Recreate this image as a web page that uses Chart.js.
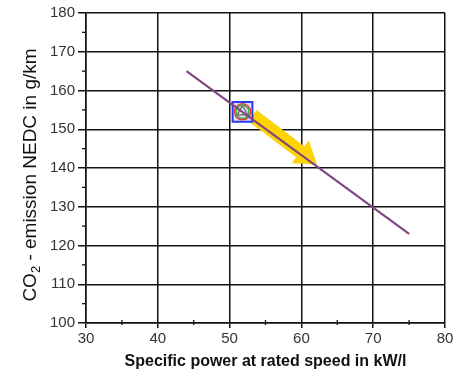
<!DOCTYPE html>
<html>
<head>
<meta charset="utf-8">
<script src="https://cdn.jsdelivr.net/npm/chart.js@4.4.1/dist/chart.umd.min.js"></script>
<style>
  html, body { margin: 0; padding: 0; background: #fff; overflow: hidden; }
  canvas { display: block; }
</style>
</head>
<body>
<canvas id="co2Chart" width="453" height="371"></canvas>
<script>
// data
var trendX = [44, 75];
var trendY = [165, 123];
var markerPoint = [51.8, 154.5];
var arrowFrom = [53.2, 153.5];
var arrowTo = [62.1, 141.0];
var xTicks = [30, 40, 50, 60, 70, 80];
var yTicks = [100, 110, 120, 130, 140, 150, 160, 170, 180];
var xMinor = [35, 45, 55, 65, 75];
var yMinor = [105, 115, 125, 135, 145, 155, 165, 175];

var font = '"Liberation Sans", Arial, sans-serif';

// yellow arrow, under the line
var arrowPlugin = {
  id: 'arrow',
  beforeDatasetsDraw: function(chart) {
    var x = chart.scales.x, y = chart.scales.y, ctx = chart.ctx;
    var x0 = x.getPixelForValue(arrowFrom[0]), y0 = y.getPixelForValue(arrowFrom[1]);
    var x1 = x.getPixelForValue(arrowTo[0]), y1 = y.getPixelForValue(arrowTo[1]);
    var ang = Math.atan2(y1 - y0, x1 - x0);
    var len = Math.hypot(x1 - x0, y1 - y0);
    var headLen = 20, headW = 13.5, bodyW = 6.5;
    ctx.save();
    ctx.translate(x0, y0);
    ctx.rotate(ang);
    ctx.beginPath();
    ctx.moveTo(0, -bodyW);
    ctx.lineTo(len - headLen, -bodyW);
    ctx.lineTo(len - headLen, -headW);
    ctx.lineTo(len, 0);
    ctx.lineTo(len - headLen, headW);
    ctx.lineTo(len - headLen, bodyW);
    ctx.lineTo(0, bodyW);
    ctx.closePath();
    ctx.fillStyle = '#ffd400';
    ctx.fill();
    ctx.strokeStyle = 'rgba(240,200,0,0.6)';
    ctx.lineWidth = 1;
    ctx.stroke();
    ctx.restore();
  }
};

// minor ticks + y title with subscript
var extrasPlugin = {
  id: 'extras',
  afterDraw: function(chart) {
    var x = chart.scales.x, y = chart.scales.y, ctx = chart.ctx;
    var area = chart.chartArea;
    ctx.save();
    ctx.strokeStyle = '#111';
    ctx.lineWidth = 1.3;
    xMinor.forEach(function(v) {
      var px = x.getPixelForValue(v);
      ctx.beginPath();
      ctx.moveTo(px, area.bottom - 3);
      ctx.lineTo(px, area.bottom + 2);
      ctx.stroke();
    });
    yMinor.forEach(function(v) {
      var py = y.getPixelForValue(v);
      ctx.beginPath();
      ctx.moveTo(area.left - 4, py);
      ctx.lineTo(area.left, py);
      ctx.stroke();
    });

    // rotated axis title
    ctx.translate(31, 175);
    ctx.rotate(-Math.PI / 2);
    ctx.fillStyle = '#111';
    ctx.textBaseline = 'middle';
    var big = '19px ' + font, small = '13px ' + font;
    var parts = [['CO', big, 0], ['2', small, 5], [' - emission NEDC in g/km', big, 0]];
    var total = 0;
    parts.forEach(function(p) { ctx.font = p[1]; total += ctx.measureText(p[0]).width; });
    var cx = -total / 2;
    parts.forEach(function(p) {
      ctx.font = p[1];
      ctx.fillText(p[0], cx, p[2]);
      cx += ctx.measureText(p[0]).width;
    });
    ctx.restore();
  }
};

new Chart(document.getElementById('co2Chart').getContext('2d'), {
  type: 'scatter',
  data: {
    datasets: [
      {
        type: 'line',
        label: 'trend',
        data: trendX.map(function(v, i) { return { x: v, y: trendY[i] }; }),
        borderColor: '#83457f',
        borderWidth: 2.2,
        pointRadius: 0,
        fill: false,
        order: 0
      },
      {
        label: 'triangle',
        data: [{ x: markerPoint[0], y: markerPoint[1] }],
        pointStyle: 'triangle',
        pointRadius: 6,
        backgroundColor: '#f4f4f4',
        borderColor: '#777',
        borderWidth: 1.5,
        order: 1
      },
      {
        label: 'green',
        data: [{ x: markerPoint[0], y: markerPoint[1] }],
        pointStyle: 'circle',
        pointRadius: 6.5,
        backgroundColor: 'rgba(0,0,0,0)',
        borderColor: '#3cb043',
        borderWidth: 1.5,
        order: 2
      },
      {
        label: 'red',
        data: [{ x: markerPoint[0], y: markerPoint[1] }],
        pointStyle: 'circle',
        pointRadius: 8,
        backgroundColor: 'rgba(0,0,0,0)',
        borderColor: '#e83838',
        borderWidth: 1.5,
        order: 3
      },
      {
        label: 'square',
        data: [{ x: markerPoint[0], y: markerPoint[1] }],
        pointStyle: 'rect',
        pointRadius: 14,
        backgroundColor: '#dcdcff',
        borderColor: '#2a3af0',
        borderWidth: 2,
        order: 4
      }
    ]
  },
  options: {
    responsive: false,
    animation: false,
    events: [],
    layout: { autoPadding: false, padding: { left: 0, right: 8, top: 13, bottom: 0 } },
    plugins: {
      legend: { display: false },
      tooltip: { enabled: false }
    },
    scales: {
      x: {
        type: 'linear',
        min: 30,
        max: 80,
        afterFit: function(scale) {
          scale.height = 48;
          scale.paddingLeft = 0;
          scale.paddingRight = 0;
        },
        afterBuildTicks: function(scale) { scale.ticks = xTicks.map(function(v) { return { value: v }; }); },
        grid: { color: '#111', lineWidth: 1.5, tickLength: 5, tickColor: '#111' },
        border: { color: '#111', width: 1.5 },
        ticks: { color: '#333', padding: 2, font: { family: font, size: 15 } },
        title: {
          display: true,
          text: 'Specific power at rated speed in kW/l',
          color: '#111',
          padding: { top: 0, bottom: 0 },
          font: { family: font, size: 16, weight: 'bold' }
        }
      },
      y: {
        type: 'linear',
        min: 100,
        max: 180,
        afterFit: function(scale) {
          scale.width = 86;
          scale.paddingTop = 0;
          scale.paddingBottom = 0;
        },
        afterBuildTicks: function(scale) { scale.ticks = yTicks.map(function(v) { return { value: v }; }); },
        grid: { color: '#111', lineWidth: 1.5, tickLength: 8, tickColor: '#111' },
        border: { color: '#111', width: 1.5 },
        ticks: { color: '#333', padding: 3, font: { family: font, size: 15 } }
      }
    }
  },
  plugins: [arrowPlugin, extrasPlugin]
});
</script>
</body>
</html>
